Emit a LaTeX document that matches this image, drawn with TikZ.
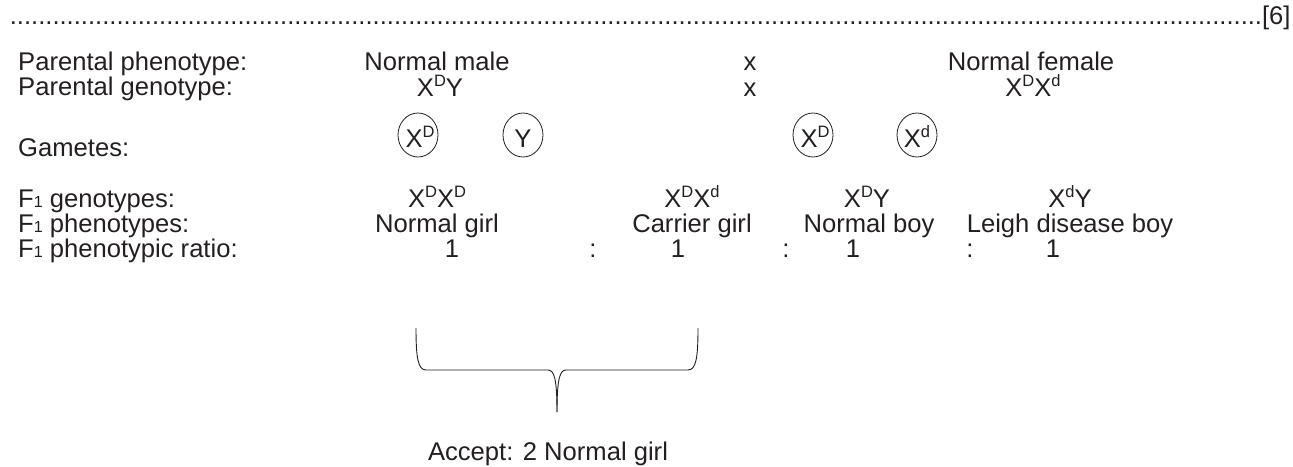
\documentclass[tikz,border=0pt]{standalone}
\usepackage{fontspec}
\usetikzlibrary{shapes.geometric}
\setmainfont{Liberation Sans}
\definecolor{ink}{RGB}{35,31,32}
\newcommand\sups[1]{\raisebox{0.37em}[0pt][0pt]{\fontsize{16.5}{16.5}\selectfont #1}}
\newcommand\subs[1]{{\fontsize{16}{16}\selectfont #1}}
\begin{document}
\begin{tikzpicture}[x=1pt,y=-1pt,
  txt/.style={inner sep=0pt,text=ink,font=\fontsize{25.6}{30}\selectfont,anchor=base},
  lbl/.style={txt,anchor=base west},
  gam/.style={draw=ink,line width=0.8pt,ellipse,minimum width=40pt,minimum height=44pt,inner sep=0pt},
  brc/.style={draw=ink,line width=0.9pt}]
\useasboundingbox (0,0) rectangle (1293,466);
% answer line
\node[txt,anchor=base east] (line) at (1290,24) {\hbox to 1280pt{\xleaders\hbox to 7.1pt{\hss.\hss}\hfill[6]}};
% row labels
\node[lbl] (l1) at (18,70) {Parental phenotype:};
\node[lbl] (l2) at (18,95) {Parental genotype:};
\node[lbl] (l3) at (18,156) {Gametes:};
\node[lbl] (l4) at (18,207) {F\subs{1} genotypes:};
\node[lbl] (l5) at (18,232) {F\subs{1} phenotypes:};
\node[lbl] (l6) at (18,257) {F\subs{1} phenotypic ratio:};
% parents
\node[txt] (pm) at (437,70) {Normal male};
\node[txt] (x1) at (750,70) {x};
\node[txt] (pf) at (1031,70) {Normal female};
\node[txt] (gm) at (440,96) {X\sups{D}Y};
\node[txt] (x2) at (750,96) {x};
\node[txt] (gf) at (1033,96) {X\sups{D}X\sups{d}};
% gametes
\node[gam] (c1) at (418,135) {};
\node[txt] (t1) at (420,147) {X\sups{D}};
\node[gam] (c2) at (523,135) {};
\node[txt] (t2) at (523,147) {Y};
\node[gam] (c3) at (813,135) {};
\node[txt] (t3) at (815,147) {X\sups{D}};
\node[gam] (c4) at (917,135) {};
\node[txt] (t4) at (917,147) {X\sups{d}};
% F1 genotypes
\node[txt] (g1) at (437,207) {X\sups{D}X\sups{D}};
\node[txt] (g2) at (692,207) {X\sups{D}X\sups{d}};
\node[txt] (g3) at (867,207) {X\sups{D}Y};
\node[txt] (g4) at (1070,207) {X\sups{d}Y};
% F1 phenotypes
\node[txt] (p1) at (437,232) {Normal girl};
\node[txt] (p2) at (692,232) {Carrier girl};
\node[txt] (p3) at (869,232) {Normal boy};
\node[txt] (p4) at (1070,232) {Leigh disease boy};
% ratio
\node[txt] (r1) at (452,257) {1};
\node[txt] (s1) at (593,257) {:};
\node[txt] (r2) at (678,257) {1};
\node[txt] (s2) at (786,257) {:};
\node[txt] (r3) at (853,257) {1};
\node[txt] (s3) at (970,257) {:};
\node[txt] (r4) at (1053,257) {1};
% brace
\coordinate (bl) at (416,328);
\coordinate (br) at (698,328);
\coordinate (bt) at (557,412);
\draw[brc] (bl) .. controls (416,358) and (418,370) .. (426,370) -- (548,370)
  .. controls (554,370) and (557,378) .. (bt);
\draw[brc] (bt) .. controls (557,378) and (560,370) .. (566,370) -- (688,370)
  .. controls (696,370) and (698,358) .. (br);
\node[txt] (acc) at (548,460) {Accept: 2 Normal girl};
\end{tikzpicture}
\end{document}
